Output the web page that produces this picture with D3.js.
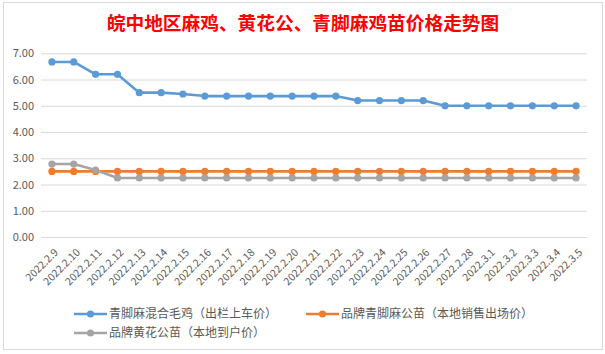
<!DOCTYPE html>
<html><head><meta charset="utf-8">
<script src="https://cdn.jsdelivr.net/npm/d3@7"></script>
<style>
html,body{margin:0;padding:0;background:#fff;}
svg{display:block;}
text{font-family:"Noto Sans CJK SC","Microsoft YaHei",sans-serif;}
</style></head>
<body>
<svg id="chart" width="605" height="354"></svg>
<script>
const title = "皖中地区麻鸡、黄花公、青脚麻鸡苗价格走势图";
const categories = ["2022.2.9","2022.2.10","2022.2.11","2022.2.12","2022.2.13","2022.2.14","2022.2.15","2022.2.16","2022.2.17","2022.2.18","2022.2.19","2022.2.20","2022.2.21","2022.2.22","2022.2.23","2022.2.24","2022.2.25","2022.2.26","2022.2.27","2022.2.28","2022.3.1","2022.3.2","2022.3.3","2022.3.4","2022.3.5"];
const seriesNames = ["青脚麻混合毛鸡（出栏上车价）","品牌青脚麻公苗（本地销售出场价）","品牌黄花公苗（本地到户价）"];
const blueValues = [6.67,6.67,6.2,6.2,5.5,5.5,5.45,5.37,5.37,5.37,5.37,5.37,5.37,5.37,5.2,5.2,5.2,5.2,5.0,5.0,5.0,5.0,5.0,5.0,5.0];
const orangeValues = [2.5,2.5,2.5,2.5,2.5,2.5,2.5,2.5,2.5,2.5,2.5,2.5,2.5,2.5,2.5,2.5,2.5,2.5,2.5,2.5,2.5,2.5,2.5,2.5,2.5];
const grayValues = [2.78,2.78,2.55,2.25,2.25,2.25,2.25,2.25,2.25,2.25,2.25,2.25,2.25,2.25,2.25,2.25,2.25,2.25,2.25,2.25,2.25,2.25,2.25,2.25,2.25];
const yTicks = [0,1,2,3,4,5,6,7];
const colors = ["#5B9BD5","#ED7D31","#A5A5A5"];

const svg = d3.select("#chart");
// chart border
svg.append("rect").attr("x",3.5).attr("y",2.5).attr("width",599).attr("height",347)
  .attr("fill","#fff").attr("stroke","#d9d9d9");

const x = d3.scaleBand().domain(categories).range([41,587]);
const y = d3.scaleLinear().domain([0,7]).range([237,53.3]);
const cx = d => x(d) + x.bandwidth()/2;

// title
svg.append("text").attr("x",303).attr("y",30).attr("text-anchor","middle")
  .attr("font-size","18.7px").attr("font-weight","bold").attr("fill","#ff0000").text(title);

// gridlines + y axis
const yAxis = d3.axisLeft(y).tickValues(yTicks).tickFormat(d3.format(".2f")).tickSize(-(587-41)).tickPadding(7);
const gy = svg.append("g").attr("transform","translate(41,0)").call(yAxis);
gy.select(".domain").remove();
gy.selectAll(".tick line").attr("stroke","#d9d9d9").attr("stroke-width",1);
gy.selectAll(".tick text").attr("fill","#595959").attr("font-size","11px")
  .attr("font-family","'Noto Sans CJK SC',sans-serif");

// x axis labels
const xAxis = d3.axisBottom(x).tickSize(0).tickPadding(0);
const gx = svg.append("g").attr("transform","translate(0,237)").call(xAxis);
gx.select(".domain").remove();
gx.selectAll(".tick text")
  .attr("fill","#595959").attr("font-size","10.5px")
  .attr("font-family","'Noto Sans CJK SC',sans-serif")
  .attr("text-anchor","end").attr("dy",null).attr("y",0)
  .attr("transform","translate(7,16) rotate(-45)");

// series
const allSeries = [blueValues, orangeValues, grayValues];
const line = d3.line().x((d,i)=>cx(categories[i])).y(d=>y(d));
allSeries.forEach((vals,si)=>{
  const g = svg.append("g");
  g.append("path").datum(vals).attr("d",line).attr("fill","none")
    .attr("stroke",colors[si]).attr("stroke-width",2.6).attr("stroke-linejoin","round");
  g.selectAll("circle").data(vals).join("circle")
    .attr("cx",(d,i)=>cx(categories[i])).attr("cy",d=>y(d)).attr("r",3.6)
    .attr("fill",colors[si]);
});

// legend
const legendItems = [
  {name:seriesNames[0], color:colors[0], x:74, y:314},
  {name:seriesNames[1], color:colors[1], x:306, y:314},
  {name:seriesNames[2], color:colors[2], x:74, y:333}
];
const lg = svg.append("g");
legendItems.forEach(it=>{
  lg.append("line").attr("x1",it.x).attr("x2",it.x+33).attr("y1",it.y).attr("y2",it.y)
    .attr("stroke",it.color).attr("stroke-width",2.6);
  lg.append("circle").attr("cx",it.x+16.5).attr("cy",it.y).attr("r",3.6).attr("fill",it.color);
  lg.append("text").attr("x",it.x+35).attr("y",it.y).attr("dy","0.36em")
    .attr("font-size","12px").attr("fill","#595959").text(it.name);
});
</script>
</body></html>
